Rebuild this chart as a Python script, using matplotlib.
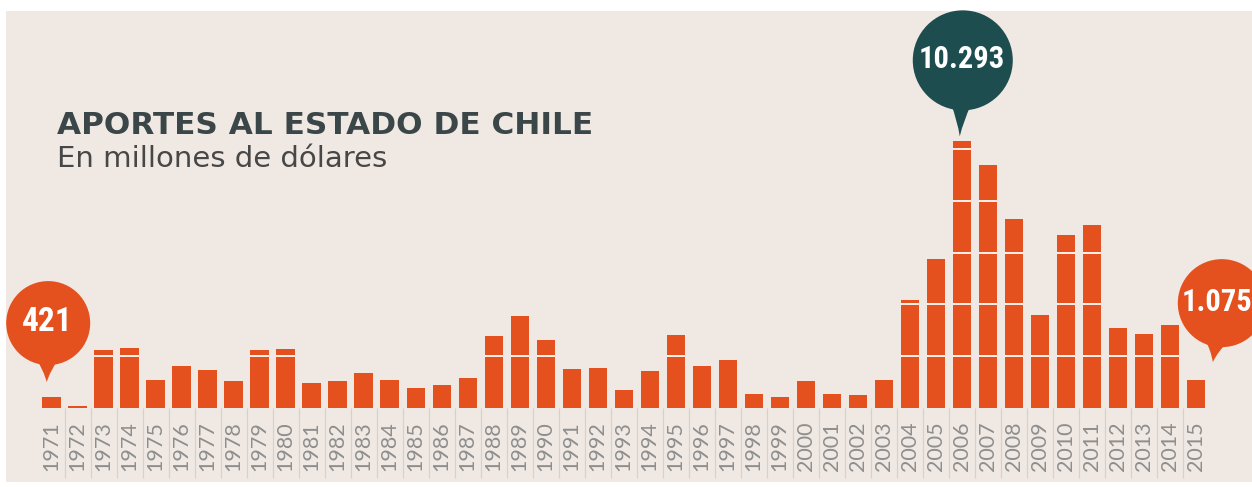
import matplotlib
matplotlib.use("Agg")
import matplotlib.pyplot as plt
import numpy as np
from matplotlib import font_manager
from matplotlib.patches import Circle, PathPatch, Rectangle
from matplotlib.path import Path
import matplotlib.transforms as mtransforms

# data (millones de dólares)
years = list(range(1971, 2016))
values = [421, 90, 2230, 2310, 1080, 1640, 1460, 1030, 2230, 2260,
          960, 1030, 1340, 1080, 780, 900, 1170, 2770, 3540, 2620,
          1500, 1530, 690, 1440, 2810, 1630, 1850, 540, 410, 1050,
          540, 490, 1080, 4180, 5740, 10293, 9370, 7310, 3590, 6670,
          7060, 3080, 2850, 3210, 1075]
grid_levels = [2000, 4000, 6000, 8000, 10000]
highlight_years = [1971, 2006, 2015]

title = "APORTES AL ESTADO DE CHILE"
subtitle = "En millones de dólares"

# colours
BG = "#f0e9e3"
BAR = "#e4501e"
TEAL = "#1d4d4e"
TITLE_C = "#3b4649"
SUB_C = "#474747"
LABEL_C = "#8e8e8e"
SEP_C = "#d6d1cc"

W, H = 1252, 487

names = {f.name for f in font_manager.fontManager.ttflist}
cond_family = "DejaVu Sans"
for cand in ["Liberation Sans Narrow", "Roboto Condensed", "Open Sans Condensed"]:
    if cand in names:
        cond_family = cand
        break
label_family = "Lato" if "Lato" in names else "DejaVu Sans"

fig = plt.figure(figsize=(W / 100, H / 100), dpi=100, facecolor="white")

# beige panel
fig.patches.append(Rectangle((6 / W, 5 / H), 1 - 6 / W, (H - 16) / H,
                             transform=fig.transFigure, facecolor=BG,
                             edgecolor="none", zorder=-10))

# bar axes: baseline at y=408px, one cell = 26px
left_px, right_px = 38.7, 1208.8
base_px, top_px = 408, 11
ax = fig.add_axes([left_px / W, (H - base_px) / H,
                   (right_px - left_px) / W, (base_px - top_px) / H])
ax.set_facecolor("none")
x = np.arange(len(years))
ax.set_xlim(-0.5, len(years) - 0.5)
ax.set_ylim(0, (base_px - top_px) * 38.6)

bw = 0.71
ax.bar(x, values, width=bw, color=BAR, zorder=2)

# white guide lines only inside the bars
for xi, v in zip(x, values):
    lv = [g for g in grid_levels if g < v - 60]
    if lv:
        ax.hlines(lv, xi - bw / 2, xi + bw / 2, color="white", lw=1.3, zorder=3)

# separators between year cells
trans = mtransforms.blended_transform_factory(ax.transData, ax.transAxes)
ax.vlines(x[:-1] + 0.5, -(478 - base_px) / (base_px - top_px), 0,
          transform=trans, color=SEP_C, lw=0.9, clip_on=False, zorder=1)
ax.axhline(0, color="#dfe2e2", lw=0.8, zorder=1)

ax.set_xticks(x, [str(y) for y in years], rotation=90, fontsize=15.5,
              color=LABEL_C, family=label_family, fontweight="normal")
ax.tick_params(axis="x", length=0, pad=9.5)
ax.set_yticks([])
for s in ax.spines.values():
    s.set_visible(False)

# titles
fig.text(57 / W, (H - 134.5) / H, title, fontsize=22.4, fontweight="bold",
         color=TITLE_C, va="baseline", ha="left")
fig.text(57 / W, (H - 167) / H, subtitle, fontsize=21, color=SUB_C,
         va="baseline", ha="left")

# overlay in pixel coords (y down) for the speech bubbles
ov = fig.add_axes([0, 0, 1, 1], zorder=5)
ov.set_xlim(0, W)
ov.set_ylim(H, 0)
ov.axis("off")
ov.set_facecolor("none")

# year: colour, tip offset from bar top, circle centre offset from tip, radius,
# fontsize, tail half-angle, text x shift
bubble_style = {
    1971: (BAR, (-5, -15), (1.5, -59), 42, 24, 17, 0),
    2006: (TEAL, (-2, -5), (3, -76), 50, 22, 13, 0),
    2015: (BAR, (17, -18), (9, -59), 44, 22, 17, -4),
}


def to_px(xd, yd):
    dx, dy = ax.transData.transform((xd, yd))
    return dx, H - dy


for yr in highlight_years:
    i = years.index(yr)
    v = values[i]
    col, toff, coff, r, fs, half, tshift = bubble_style[yr]
    bx, by = to_px(i, v)
    tx, ty = bx + toff[0], by + toff[1]
    cx, cy = tx + coff[0], ty + coff[1]
    ov.add_patch(Circle((cx, cy), r, facecolor=col, edgecolor="none"))
    ang = np.arctan2(ty - cy, tx - cx)
    phi = np.radians(half)
    rb = r * 0.9
    b1 = (cx + rb * np.cos(ang - phi), cy + rb * np.sin(ang - phi))
    b2 = (cx + rb * np.cos(ang + phi), cy + rb * np.sin(ang + phi))
    m1 = ((b1[0] + tx) / 2 * 0.6 + 0.4 * (cx + (tx - cx) * 0.8),
          (b1[1] + ty) / 2 * 0.6 + 0.4 * (cy + (ty - cy) * 0.8))
    m2 = ((b2[0] + tx) / 2 * 0.6 + 0.4 * (cx + (tx - cx) * 0.8),
          (b2[1] + ty) / 2 * 0.6 + 0.4 * (cy + (ty - cy) * 0.8))
    verts = [b1, m1, (tx, ty), m2, b2, (cx, cy), b1]
    codes = [Path.MOVETO, Path.CURVE3, Path.CURVE3, Path.CURVE3, Path.CURVE3,
             Path.LINETO, Path.CLOSEPOLY]
    ov.add_patch(PathPatch(Path(verts, codes), facecolor=col, edgecolor="none"))
    label = f"{v:,}".replace(",", ".")
    ov.text(cx - 1 + tshift, cy - 1, label, color="white", fontsize=fs,
            fontweight="bold", family=cond_family, fontstretch="condensed",
            ha="center", va="center")

fig.savefig("out.png", dpi=100, facecolor="white")
